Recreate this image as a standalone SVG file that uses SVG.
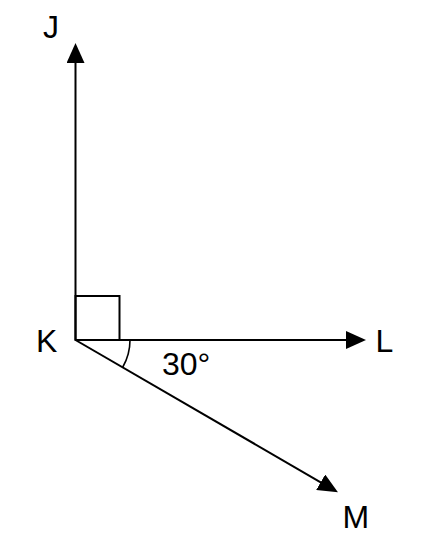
<svg xmlns="http://www.w3.org/2000/svg" width="427" height="547" viewBox="0 0 427 547">
  <style>
    .lbl { font-family: "Liberation Sans", Arial, sans-serif; font-size: 32px; fill: #000; }
    .ln { stroke: #000; stroke-width: 2; fill: none; }
    .arc { stroke: #000; stroke-width: 1.6; fill: none; }
  </style>
  <defs>
    <marker id="arr" viewBox="0 0 20 18" refX="2" refY="9" markerWidth="20" markerHeight="18" markerUnits="userSpaceOnUse" orient="auto">
      <path d="M0,0 L20,9 L0,18 z" fill="#000"/>
    </marker>
  </defs>
  <rect width="427" height="547" fill="#fff"/>
  <g id="connectors">
    <line class="ln" x1="75.5" y1="340" x2="75.5" y2="61" marker-end="url(#arr)"/>
    <line class="ln" x1="75.5" y1="340" x2="348" y2="340" marker-end="url(#arr)"/>
    <line class="ln" x1="75.5" y1="340" x2="322.4" y2="483.3" marker-end="url(#arr)"/>
  </g>
  <g id="right-angle">
    <rect class="ln" x="75.5" y="296" width="44" height="44"/>
  </g>
  <g id="angle-30">
    <path class="arc" d="M130,340 A54.5,54.5 0 0 1 122.7,367.25"/>
    <text class="lbl" x="162" y="375">30°</text>
  </g>
  <g id="node-J"><text class="lbl" x="43" y="38">J</text></g>
  <g id="node-K"><text class="lbl" x="36" y="352">K</text></g>
  <g id="node-L"><text class="lbl" x="375.5" y="352">L</text></g>
  <g id="node-M"><text class="lbl" x="342.5" y="528">M</text></g>
</svg>
